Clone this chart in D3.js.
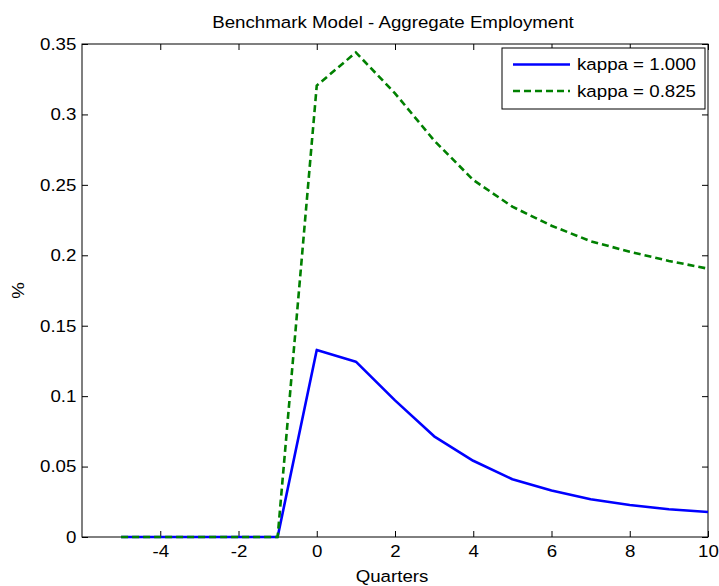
<!DOCTYPE html>
<html>
<head>
<meta charset="utf-8">
<script src="https://cdn.jsdelivr.net/npm/d3@7"></script>
<style>
  html, body { margin: 0; padding: 0; background: #fff; }
  svg { display: block; font-family: "Liberation Sans", Arial, sans-serif; }
</style>
</head>
<body>
<svg id="chart" width="719" height="586"></svg>
<script>
// Impulse response of aggregate employment (percent deviation), by quarter
const quarters = [-5, -4, -3, -2, -1, 0, 1, 2, 3, 4, 5, 6, 7, 8, 9, 10];
const kappa1000 = [0, 0, 0, 0, 0, 0.1328, 0.1245, 0.0970, 0.0715, 0.0541, 0.0410, 0.0330, 0.0268, 0.0227, 0.0197, 0.0177];
const kappa0825 = [0, 0, 0, 0, 0, 0.3205, 0.3440, 0.3150, 0.2815, 0.2535, 0.2345, 0.2210, 0.2100, 0.2025, 0.1960, 0.1905];
const seriesNames = ["kappa = 1.000", "kappa = 0.825"];
const xTicks = [-4, -2, 0, 2, 4, 6, 8, 10];
const yTicks = [0, 0.05, 0.1, 0.15, 0.2, 0.25, 0.3, 0.35];

const svg = d3.select("#chart");
const margin = { left: 82, right: 11, top: 44, bottom: 49 };
const W = 719, H = 586;
const x0 = margin.left, x1 = W - margin.right, y0 = margin.top, y1 = H - margin.bottom;

const x = d3.scaleLinear().domain([-6, 10]).range([x0, x1]);
const y = d3.scaleLinear().domain([0, 0.35]).range([y1, y0]);

const FS = 16.7;          // font size
const SX = 1.12;          // slightly widened glyphs
const tickLen = 6;
const fmtY = v => v === 0 ? "0" : String(+v.toFixed(2));

// Text helper: places a horizontally widened label at (px, py)
function label(parent, px, py, str, anchor, rotate) {
  return parent.append("text")
    .attr("transform", `translate(${px},${py})` + (rotate ? ` rotate(${rotate})` : "") + ` scale(${SX},1)`)
    .attr("text-anchor", anchor || "start")
    .attr("font-size", FS)
    .attr("fill", "#000")
    .text(str);
}

// Axes: bottom/left with labels, top/right as a box with inward ticks
const axB = svg.append("g").attr("transform", `translate(0,${y1})`)
  .call(d3.axisBottom(x).tickValues(xTicks).tickSizeInner(-tickLen).tickSizeOuter(0).tickPadding(8).tickFormat(d => String(d)));
const axT = svg.append("g").attr("transform", `translate(0,${y0})`)
  .call(d3.axisTop(x).tickValues(xTicks).tickSizeInner(-tickLen).tickSizeOuter(0).tickFormat(""));
const axL = svg.append("g").attr("transform", `translate(${x0},0)`)
  .call(d3.axisLeft(y).tickValues(yTicks).tickSizeInner(-tickLen).tickSizeOuter(0).tickPadding(5).tickFormat(fmtY));
const axR = svg.append("g").attr("transform", `translate(${x1},0)`)
  .call(d3.axisRight(y).tickValues(yTicks).tickSizeInner(-tickLen).tickSizeOuter(0).tickFormat(""));

[axB, axT, axL, axR].forEach(g => {
  g.select(".domain").remove();
  g.selectAll(".tick line").attr("stroke", "#000").attr("stroke-width", 1);
  g.selectAll("text").attr("fill", "#000").attr("font-size", FS)
    .attr("font-family", "'Liberation Sans', Arial, sans-serif")
    .attr("transform", `scale(${SX},1)`);
});

// Plot box
svg.append("rect").attr("x", x0).attr("y", y0).attr("width", x1 - x0).attr("height", y1 - y0)
  .attr("fill", "none").attr("stroke", "#000").attr("stroke-width", 1);

// Lines
const line = vals => d3.line().x((d, i) => x(quarters[i])).y(d => y(d))(vals);
svg.append("path").attr("d", line(kappa1000)).attr("fill", "none")
  .attr("stroke", "#0000ff").attr("stroke-width", 2.6).attr("stroke-linejoin", "round");
svg.append("path").attr("d", line(kappa0825)).attr("fill", "none")
  .attr("stroke", "#008000").attr("stroke-width", 2.6).attr("stroke-dasharray", "7,4");

// Title and axis labels
label(svg, (x0 + x1) / 2 - 2, 28, "Benchmark Model - Aggregate Employment", "middle");
label(svg, 392, 582, "Quarters", "middle");
label(svg, 24, (y0 + y1) / 2, "%", "middle", -90);

// Legend
const lg = svg.append("g");
lg.append("rect").attr("x", 502).attr("y", 48).attr("width", 203).attr("height", 61)
  .attr("fill", "#fff").attr("stroke", "#000").attr("stroke-width", 1);
const styles = [
  { color: "#0000ff", dash: null },
  { color: "#008000", dash: "7,4" }
];
seriesNames.forEach((name, i) => {
  const yy = 64.5 + i * 26.5;
  lg.append("line").attr("x1", 513).attr("x2", 570).attr("y1", yy).attr("y2", yy)
    .attr("stroke", styles[i].color).attr("stroke-width", 2.6)
    .attr("stroke-dasharray", styles[i].dash);
  label(lg, 577, yy + 5.8, name, "start");
});
</script>
</body>
</html>
